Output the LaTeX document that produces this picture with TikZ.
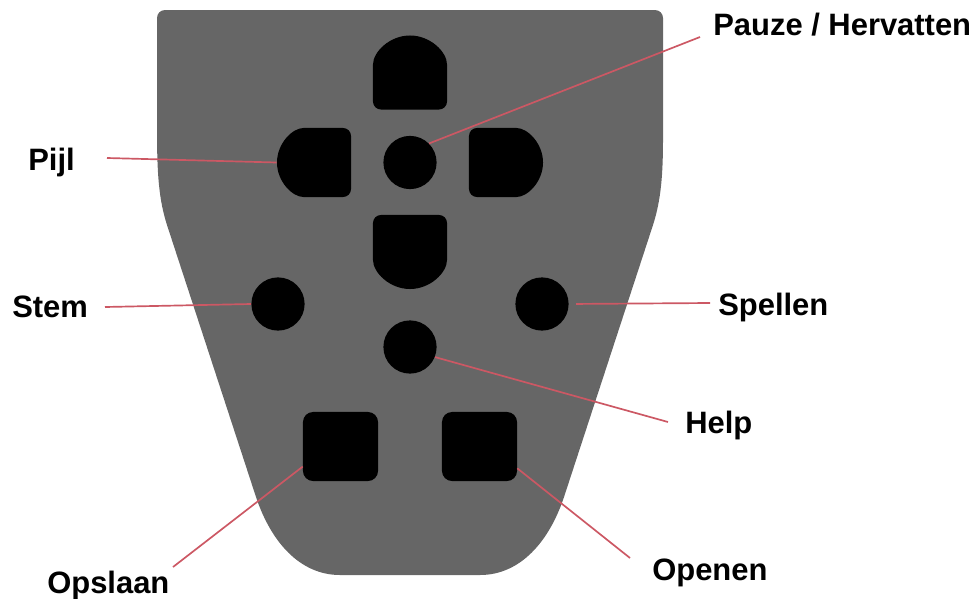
\documentclass[tikz,border=0pt]{standalone}
\usepackage{fontspec}
\setmainfont{Liberation Sans}
\usepackage{tikz}
\usetikzlibrary{shapes.misc, positioning}
\definecolor{bodygray}{HTML}{666666}
\definecolor{linkred}{RGB}{204,88,100}
\tikzset{
    dbtn/.style={rounded rectangle, fill=black, inner sep=0pt, minimum width=1.85cm, minimum height=1.725cm, rounded corners=0.2cm},
    rbtn/.style={circle, fill=black, inner sep=0pt, minimum size=1.33cm},
    sqbtn/.style={rectangle, fill=black, inner sep=0pt, minimum width=1.875cm, minimum height=1.725cm, rounded corners=0.25cm},
    lbl/.style={anchor=base west, inner sep=0pt, font=\fontsize{22}{26}\selectfont\bfseries},
    link/.style={draw=linkred, line width=1.2pt}
}
\begin{document}
\begin{tikzpicture}[x=0.025cm, y=-0.025cm]
        \useasboundingbox (0,0) rectangle (977,598);
        % Remote body
        \fill[bodygray] (157,130) {[rounded corners=0.2cm] -- (157,10) -- (663,10) -- (663,130)}
            .. controls (663,175) and (661,200) .. (653,225) -- (564,497)
            .. controls (549,542) and (520,575) .. (480,575) -- (340,575)
            .. controls (300,575) and (271,542) .. (256,497) -- (167,225)
            .. controls (159,200) and (157,175) .. (157,130) -- cycle;

        % Buttons
        \node[dbtn, rotate=90, minimum width=1.725cm, minimum height=1.85cm, rounded rectangle west arc=none] (btnUp) at (410,72.5) {};
        \node[dbtn, rotate=90, minimum width=1.725cm, minimum height=1.85cm, rounded rectangle east arc=none] (btnDown) at (410,252) {};
        \node[dbtn, rounded rectangle east arc=none] (btnLeft) at (314,162.5) {};
        \node[dbtn, rounded rectangle west arc=none] (btnRight) at (506,162.5) {};
        \node[rbtn] (btnPause) at (410,162.5) {};
        \node[rbtn] (btnStem) at (278,304) {};
        \node[rbtn] (btnPlay) at (542,304) {};
        \node[rbtn] (btnHelp) at (410,347) {};
        \node[sqbtn] (btnSave) at (340.5,446.5) {};
        \node[sqbtn] (btnOpen) at (479.5,446.5) {};

        % Labels
        \node[lbl] (lPause) at (713,35) {Pauze / Hervatten};
        \node[lbl] (lArrow) at (28,170) {Pijl};
        \node[lbl] (lStem) at (12,317) {Stem};
        \node[lbl] (lPlay) at (718,315) {Spellen};
        \node[lbl] (lHelp) at (685,433) {Help};
        \node[lbl] (lSave) at (47,593) {Opslaan};
        \node[lbl] (lOpen) at (652,580) {Openen};

        \coordinate (ePause) at (700,37);
        \coordinate (eArrow) at (107,158);
        \coordinate (eStem) at (105,307);
        \coordinate (ePlay) at (710,303);
        \coordinate (eHelp) at (668,422);
        \coordinate (eSave) at (173,567);
        \coordinate (eOpen) at (630,558);

        % Connectors
        \draw[link] (ePause) -- (btnPause.45);
        \draw[link] (eArrow) -- (btnLeft.west);
        \draw[link] (eStem) -- (btnStem.west);
        \draw[link, shorten >=0.18cm] (ePlay) -- (btnPlay.east);
        \draw[link] (eHelp) -- (btnHelp.-22);
        \draw[link] (eSave) -- (btnSave.208);
        \draw[link] (eOpen) -- (btnOpen.-30);
    \end{tikzpicture}
\end{document}
